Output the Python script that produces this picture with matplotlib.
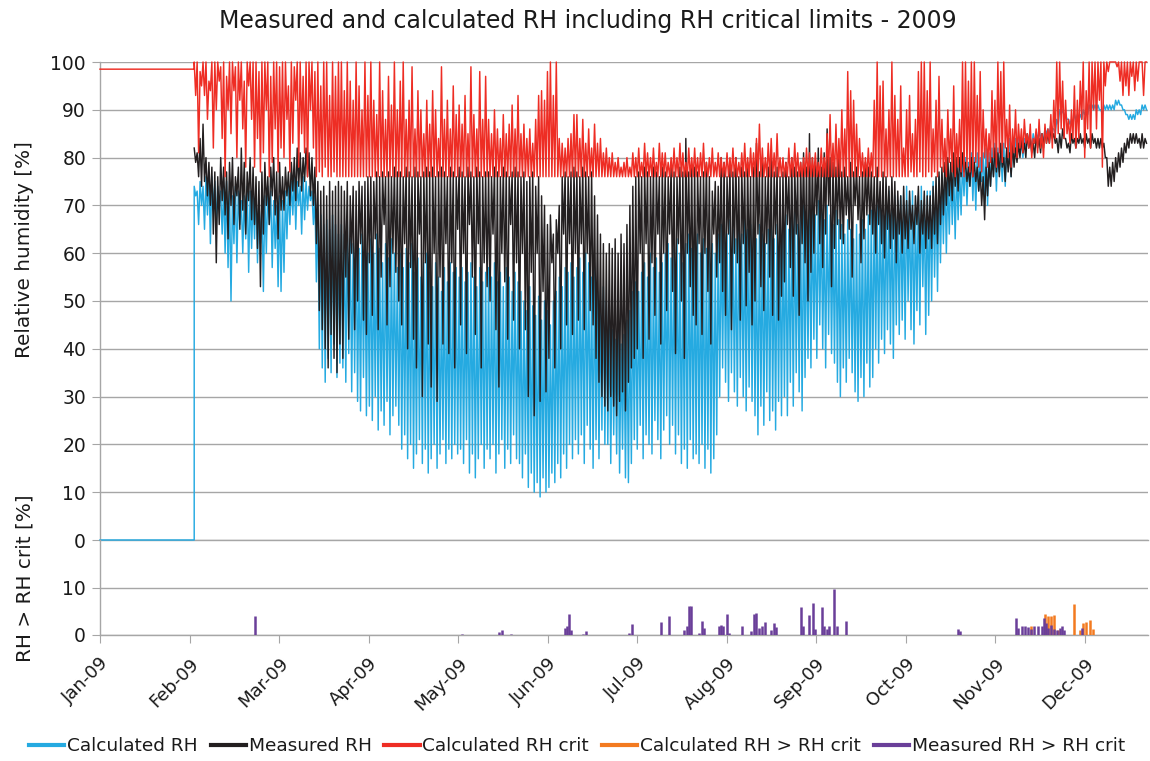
import numpy as np
import matplotlib
matplotlib.use("Agg")
import matplotlib.pyplot as plt
from matplotlib.lines import Line2D

plt.rcParams['font.family'] = ['DejaVu Sans']

# ---------------- data ----------------
month_labels = ["Jan-09", "Feb-09", "Mar-09", "Apr-09", "May-09", "Jun-09",
                "Jul-09", "Aug-09", "Sep-09", "Oct-09", "Nov-09", "Dec-09"]

# day of year (0 = 1 Jan) where the daily series start
series_start_day = 32
# values before the logger started (day 0 .. day 32)
pre_days = [0, 32]
calc_pre = [0, 0]
crit_pre = [98.5, 98.5]

# Calculated RH: daily high / low, from day 32 onward
calc_hi = [
    74, 73, 75, 74, 76, 77, 76, 75, 74, 73,
    74, 75, 73, 72, 74, 73, 71, 72, 74, 73,
    72, 73, 71, 70, 72, 74, 73, 71, 70, 72,
    71, 73, 74, 75, 76, 75, 74, 76, 75, 74,
    73, 72, 70, 68, 66, 67, 65, 68, 66, 64,
    66, 64, 67, 63, 62, 65, 61, 64, 62, 60,
    63, 60, 64, 61, 58, 62, 59, 63, 60, 57,
    60, 57, 61, 58, 62, 56, 59, 55, 58, 60,
    56, 53, 58, 55, 52, 57, 54, 58, 56, 57,
    55, 57, 54, 56, 58, 55, 53, 57, 54, 56,
    57, 55, 58, 54, 56, 53, 57, 55, 52, 56,
    54, 52, 50, 48, 53, 49, 47, 51, 46, 50,
    48, 45, 50, 52, 55, 53, 57, 56, 58, 55,
    57, 59, 56, 60, 58, 55, 57, 52, 50, 53,
    50, 47, 44, 42, 45, 41, 43, 46, 48, 52,
    54, 52, 56, 58, 55, 60, 57, 59, 56, 58,
    60, 62, 59, 61, 63, 60, 58, 62, 64, 61,
    62, 64, 60, 63, 61, 65, 62, 60, 64, 66,
    66, 64, 67, 65, 63, 66, 64, 67, 65, 66,
    65, 63, 66, 64, 62, 65, 67, 63, 66, 64,
    66, 68, 65, 67, 69, 66, 68, 70, 67, 69,
    70, 68, 71, 69, 67, 70, 68, 66, 69, 67,
    66, 64, 67, 65, 63, 66, 64, 67, 65, 68,
    69, 71, 70, 72, 68, 71, 73, 70, 72, 71,
    72, 70, 74, 71, 73, 69, 72, 74, 71, 73,
    73, 75, 74, 76, 75, 77, 76, 78, 77, 78,
    78, 79, 80, 79, 81, 80, 81, 80, 81, 82,
    81, 82, 83, 82, 81, 83, 82, 84, 83, 84,
    84, 83, 84, 85, 84, 85, 85, 86, 85, 86,
    86, 87, 86, 88, 90, 90, 89, 88, 88, 89,
    89, 89, 90, 90, 91, 91, 91, 91, 90, 91,
    91, 91, 91, 92, 92, 91, 90, 89, 89, 89,
    90, 90, 91, 91,
]
calc_lo = [
    72, 66, 70, 65, 68, 62, 69, 66, 70, 64,
    60, 57, 50, 62, 58, 66, 60, 63, 56, 61,
    63, 58, 62, 52, 60, 66, 57, 61, 53, 52,
    56, 63, 66, 68, 65, 70, 64, 67, 69, 71,
    66, 54, 40, 36, 33, 38, 35, 41, 34, 37,
    36, 33, 39, 31, 35, 29, 27, 34, 26, 28,
    25, 30, 23, 27, 24, 29, 22, 26, 28, 24,
    19, 22, 17, 20, 15, 18, 21, 16, 19, 14,
    17, 20, 15, 18, 21, 16, 19, 17, 20, 18,
    19, 16, 21, 14, 18, 13, 17, 20, 15, 19,
    17, 20, 14, 18, 21, 15, 19, 16, 22, 17,
    16, 13, 18, 11, 14, 10, 12, 9, 13, 10,
    11, 14, 12, 16, 13, 18, 15, 20, 17, 21,
    18, 22, 16, 24, 19, 15, 21, 17, 23, 20,
    20, 16, 22, 18, 14, 19, 13, 12, 16, 21,
    19, 24, 17, 22, 20, 18, 25, 21, 17, 23,
    26, 20, 24, 18, 22, 16, 19, 15, 21, 17,
    18, 16, 20, 15, 19, 14, 17, 22, 30, 36,
    33, 29, 35, 31, 28, 34, 30, 27, 32, 29,
    26, 22, 28, 24, 31, 25, 27, 23, 29, 26,
    30, 26, 33, 28, 35, 31, 27, 34, 38, 36,
    42, 38, 45, 40, 36, 43, 39, 37, 33, 30,
    36, 33, 38, 35, 31, 29, 34, 30, 37, 32,
    34, 40, 37, 42, 39, 44, 41, 38, 45, 43,
    46, 42, 50, 44, 41, 48, 45, 53, 43, 47,
    50, 55, 52, 58, 62, 60, 64, 66, 63, 67,
    68, 72, 70, 74, 71, 69, 73, 75, 72, 70,
    74, 76, 73, 77, 75, 74, 78, 76, 79, 80,
    81, 80, 82, 83, 82, 83, 84, 84, 83, 85,
    85, 86, 85, 87, 89, 89, 88, 87, 87, 88,
    88, 88, 89, 89, 90, 90, 90, 90, 89, 90,
    90, 90, 90, 91, 91, 90, 89, 88, 88, 88,
    89, 89, 90, 90,
]

# Measured RH: daily high / low, from day 32 onward
meas_hi = [
    82, 81, 84, 87, 80, 79, 78, 77, 76, 80,
    78, 77, 79, 80, 76, 78, 82, 79, 77, 80,
    78, 76, 75, 77, 79, 76, 78, 80, 77, 79,
    76, 78, 77, 79, 80, 82, 81, 80, 82, 81,
    80, 78, 75, 73, 74, 72, 75, 73, 74, 75,
    74, 73, 75, 72, 74, 73, 75, 74, 75, 76,
    76, 75, 77, 76, 77, 76, 77, 76, 78, 77,
    77, 76, 78, 77, 76, 78, 77, 76, 77, 78,
    77, 78, 76, 77, 78, 77, 76, 78, 77, 76,
    78, 77, 76, 78, 77, 76, 78, 77, 76, 77,
    77, 76, 78, 77, 76, 78, 77, 76, 77, 78,
    77, 76, 77, 75, 76, 77, 74, 76, 72, 70,
    66, 68, 64, 67, 70, 76, 77, 76, 77, 78,
    77, 76, 78, 77, 76, 77, 72, 68, 64, 62,
    60, 62, 61, 63, 60, 64, 62, 66, 70, 74,
    76, 77, 76, 78, 77, 76, 78, 77, 76, 78,
    77, 76, 78, 77, 76, 78, 77, 84, 77, 78,
    78, 77, 76, 77, 79, 76, 73, 75, 74, 80,
    79, 76, 78, 77, 80, 76, 78, 77, 79, 76,
    78, 83, 77, 79, 76, 78, 80, 77, 78, 76,
    77, 79, 76, 80, 78, 77, 79, 81, 78, 85,
    80, 79, 82, 78, 81, 86, 80, 79, 78, 80,
    77, 78, 76, 79, 77, 78, 76, 77, 79, 78,
    77, 76, 78, 75, 77, 76, 74, 76, 75, 73,
    72, 74, 71, 73, 70, 72, 74, 71, 73, 72,
    72, 74, 76, 77, 78, 79, 80, 79, 81, 80,
    80, 81, 79, 78, 80, 79, 78, 77, 76, 78,
    79, 80, 82, 81, 83, 80, 82, 81, 83, 82,
    83, 84, 83, 85, 84, 83, 85, 84, 85, 86,
    85, 86, 85, 84, 85, 86, 84, 83, 85, 84,
    84, 85, 84, 85, 84, 85, 84, 84, 84, 83,
    80, 78, 79, 80, 81, 82, 83, 84, 85, 85,
    85, 84, 85, 84,
]
meas_lo = [
    79, 76, 74, 75, 72, 70, 64, 58, 66, 71,
    68, 63, 70, 66, 72, 65, 69, 64, 71, 67,
    66, 61, 53, 64, 70, 66, 72, 68, 63, 69,
    69, 72, 70, 73, 71, 74, 73, 75, 76, 72,
    70, 62, 48, 44, 40, 36, 43, 38, 35, 41,
    38, 55, 42, 60, 44, 50, 62, 46, 43, 58,
    47, 63, 44, 55, 66, 45, 53, 60, 56, 50,
    45, 62, 40, 57, 42, 36, 64, 30, 58, 41,
    32, 60, 29, 55, 41, 62, 39, 58, 36, 65,
    45, 60, 39, 66, 55, 43, 62, 36, 58, 53,
    50, 64, 44, 32, 60, 54, 42, 66, 46, 58,
    40, 60, 44, 30, 56, 26, 60, 29, 52, 31,
    38, 58, 36, 60, 40, 64, 45, 62, 43, 60,
    46, 62, 44, 60, 48, 45, 38, 33, 30, 28,
    27, 30, 28, 26, 29, 31, 27, 33, 36, 38,
    40, 60, 38, 62, 42, 58, 47, 64, 41, 60,
    48, 64, 52, 39, 62, 50, 38, 60, 53, 47,
    45, 62, 43, 60, 52, 41, 64, 55, 58, 52,
    47, 64, 44, 60, 58, 46, 62, 49, 56, 45,
    50, 64, 53, 48, 62, 55, 47, 64, 46, 51,
    54, 66, 57, 51, 64, 47, 62, 58, 50, 56,
    60, 68, 62, 57, 64, 70, 53, 61, 66, 63,
    62, 68, 65, 55, 70, 67, 58, 63, 68, 66,
    64, 60, 66, 62, 59, 65, 61, 63, 58, 64,
    60, 63, 61, 65, 62, 66, 60, 64, 61, 63,
    61, 64, 62, 66, 68, 70, 72, 71, 74, 73,
    76, 77, 75, 74, 76, 75, 73, 70, 67, 72,
    74, 76, 77, 76, 78, 75, 77, 76, 78, 79,
    80, 81, 80, 82, 81, 80, 82, 81, 82, 83,
    83, 84, 83, 81, 82, 84, 82, 81, 83, 82,
    83, 83, 82, 83, 82, 83, 82, 82, 82, 80,
    74, 74, 75, 77, 78, 79, 81, 82, 83, 83,
    83, 82, 82, 83,
]

# Calculated RH crit: daily high / low, from day 32 onward
crit_hi = [
    100, 100, 98, 100, 100, 96, 100, 100, 100, 99,
    100, 97, 100, 100, 99, 100, 100, 96, 100, 100,
    100, 100, 98, 100, 100, 100, 97, 100, 100, 99,
    100, 100, 95, 100, 99, 100, 100, 97, 100, 100,
    100, 98, 100, 95, 100, 100, 93, 100, 97, 100,
    100, 94, 100, 96, 92, 100, 95, 90, 100, 93,
    100, 92, 89, 100, 94, 88, 97, 91, 100, 90,
    96, 100, 88, 92, 99, 86, 94, 90, 85, 92,
    87, 94, 90, 84, 99, 88, 92, 86, 95, 89,
    91, 87, 93, 85, 99, 89, 86, 98, 88, 97,
    88, 85, 90, 86, 84, 89, 85, 87, 91, 86,
    93, 85, 87, 84, 86, 83, 88, 93, 94, 92,
    98, 100, 93, 100, 84, 83, 82, 84, 85, 89,
    89, 84, 88, 83, 86, 82, 87, 83, 84, 81,
    82, 80, 81, 79, 80, 78, 79, 80, 78, 81,
    80, 82, 79, 83, 81, 80, 82, 79, 83, 81,
    81, 79, 80, 82, 80, 83, 81, 79, 82, 80,
    82, 80, 81, 83, 79, 80, 82, 79, 81, 80,
    79, 81, 80, 82, 80, 79, 81, 83, 80, 82,
    81, 84, 87, 82, 80, 83, 84, 81, 85, 80,
    80, 79, 82, 80, 83, 81, 79, 80, 82, 81,
    80, 81, 79, 82, 80, 85, 89, 83, 87, 84,
    90, 86, 98, 94, 92, 87, 84, 81, 80, 82,
    81, 92, 100, 95, 96, 86, 90, 100, 93, 88,
    95, 82, 90, 93, 85, 88, 98, 100, 100, 94,
    100, 86, 92, 97, 88, 84, 90, 86, 95, 85,
    88, 100, 100, 96, 100, 100, 93, 98, 90, 86,
    85, 94, 92, 100, 98, 100, 88, 91, 86, 90,
    87, 86, 88, 85, 87, 84, 86, 88, 85, 87,
    86, 89, 92, 100, 100, 96, 92, 88, 90, 95,
    92, 96, 100, 94, 100, 100, 100, 100, 100, 100,
    100, 100, 100, 100, 100, 100, 100, 100, 100, 100,
    100, 100, 100, 100,
]
crit_lo = [
    93, 81, 95, 93, 88, 94, 82, 90, 96, 84,
    76, 90, 85, 94, 80, 92, 86, 78, 95, 88,
    78, 84, 77, 81, 90, 76, 79, 86, 77, 82,
    80, 88, 77, 83, 92, 78, 85, 81, 76, 90,
    82, 76, 77, 76, 78, 76, 76, 77, 76, 76,
    76, 76, 76, 76, 76, 76, 76, 76, 76, 76,
    76, 76, 76, 76, 76, 76, 76, 76, 76, 76,
    76, 76, 76, 76, 76, 76, 76, 76, 76, 76,
    76, 76, 76, 76, 76, 76, 76, 76, 76, 76,
    76, 76, 76, 76, 76, 76, 76, 76, 76, 76,
    76, 76, 76, 76, 76, 76, 76, 76, 76, 76,
    76, 76, 76, 76, 76, 76, 76, 76, 76, 76,
    76, 76, 76, 76, 76, 76, 76, 76, 76, 76,
    76, 76, 76, 76, 76, 76, 76, 76, 76, 76,
    76, 76, 76, 76, 76, 76, 76, 76, 76, 76,
    76, 76, 76, 76, 76, 76, 76, 76, 76, 76,
    76, 76, 76, 76, 76, 76, 76, 76, 76, 76,
    76, 76, 76, 76, 76, 76, 76, 76, 76, 76,
    76, 76, 76, 76, 76, 76, 76, 76, 76, 76,
    76, 76, 76, 76, 76, 76, 76, 76, 76, 76,
    76, 76, 76, 76, 76, 76, 76, 76, 76, 76,
    76, 76, 76, 76, 76, 76, 76, 76, 76, 76,
    76, 76, 76, 76, 76, 76, 76, 76, 76, 76,
    76, 76, 76, 76, 76, 76, 76, 76, 76, 76,
    76, 76, 76, 77, 76, 76, 77, 76, 76, 77,
    76, 77, 76, 78, 77, 76, 79, 77, 76, 78,
    77, 76, 78, 77, 76, 79, 78, 77, 80, 78,
    79, 80, 78, 81, 79, 82, 80, 78, 81, 80,
    82, 81, 83, 82, 80, 83, 81, 82, 80, 83,
    83, 82, 84, 85, 86, 84, 85, 83, 84, 82,
    84, 88, 80, 86, 82, 90, 86, 92, 78, 95,
    98, 100, 100, 99, 96, 93, 95, 93, 97, 94,
    96, 100, 93, 100,
]

# RH > RH crit events (day of year, excess in %)
meas_exc_days = [52.6, 122.8, 135.6, 136.7, 139.7, 158.0, 158.7, 159.4, 160.0, 164.0,
                 165.0, 179.7, 180.7, 190.6, 193.3, 198.4, 199.4, 200.0, 200.7, 203.5,
                 204.5, 205.2, 210.2, 210.9, 211.6, 213.0, 213.6, 218.0, 221.0, 222.0,
                 222.8, 223.8, 224.8, 225.8, 227.9, 228.9, 229.6, 238.0, 238.7, 240.8,
                 242.1, 242.8, 245.2, 245.8, 246.9, 247.5, 249.2, 250.3, 253.3, 291.6,
                 292.3, 311.3, 312.0, 313.3, 314.3, 315.4, 316.4, 317.4, 318.7, 320.1,
                 320.8, 321.5, 322.1, 323.2, 324.2, 325.2, 326.2, 326.9, 327.6, 333.7]
meas_exc_vals = [4.0, 0.3, 0.6, 1.0, 0.2, 1.5, 2.0, 4.5, 1.0, 0.3,
                 0.8, 0.5, 2.4, 2.8, 4.0, 1.0, 1.8, 6.2, 6.2, 0.5,
                 3.0, 1.5, 2.0, 2.2, 2.0, 4.5, 0.5, 2.0, 0.8, 4.5,
                 4.7, 1.5, 2.0, 2.8, 1.0, 2.5, 1.6, 6.0, 2.0, 4.2,
                 6.7, 1.2, 6.0, 2.0, 1.2, 2.0, 9.6, 2.0, 3.0, 1.2,
                 0.8, 3.6, 1.5, 1.8, 2.0, 1.6, 1.2, 2.0, 1.8, 1.8,
                 3.5, 2.5, 1.5, 2.2, 1.2, 1.0, 1.5, 1.8, 1.0, 1.5]
calc_exc_days = [316.4, 321.1, 322.1, 323.2, 324.2, 325.5, 331.0, 333.0, 334.0, 335.0, 336.4, 337.4]
calc_exc_vals = [1.8, 4.5, 4.0, 4.1, 4.3, 1.0, 6.5, 1.0, 2.5, 2.7, 3.2, 1.2]

# ---------------- style ----------------
C_CALC = "#25AAE1"
C_MEAS = "#231F20"
C_CRIT = "#EE2D24"
C_CEXC = "#F37A20"
C_MEXC = "#6A3F99"
C_GRID = "#A6A6A6"
C_TEXT = "#1A1A1A"


def zigzag_series(start, hi, lo):
    """Daily high / low pairs laid out along the day axis."""
    n = len(hi)
    d = start + np.arange(n, dtype=float)
    x = np.empty(2 * n)
    y = np.empty(2 * n)
    x[0::2] = d
    x[1::2] = d + 0.5
    y[0::2] = hi
    y[1::2] = lo
    return x, y


W, H = 1150, 761
fig = plt.figure(figsize=(W / 100, H / 100), dpi=100)
left, right = 100 / W, 1148 / W
ax = fig.add_axes([left, (H - 540) / H, right - left, (540 - 62) / H])
axb = fig.add_axes([left, (H - 635) / H, right - left, (635 - 540) / H], sharex=ax)

xc, yc = zigzag_series(series_start_day, calc_hi, calc_lo)
xm, ym = zigzag_series(series_start_day, meas_hi, meas_lo)
xr, yr = zigzag_series(series_start_day, crit_hi, crit_lo)

lw = 1.05
ax.axhline(0, color=C_GRID, lw=1.0, zorder=1, clip_on=False)
ax.plot(np.r_[pre_days, xc], np.r_[calc_pre, yc], color=C_CALC, lw=lw, clip_on=False, zorder=3)
ax.plot(xm, ym, color=C_MEAS, lw=lw, clip_on=False, zorder=4)
ax.plot(np.r_[pre_days, xr], np.r_[crit_pre, yr], color=C_CRIT, lw=lw, clip_on=False, zorder=5)

axb.vlines(calc_exc_days, 0, calc_exc_vals, color=C_CEXC, lw=1.8, zorder=3)
axb.vlines(meas_exc_days, 0, meas_exc_vals, color=C_MEXC, lw=1.8, zorder=4)

month_pos = np.arange(12) * 365 / 12
ax.set_xlim(0, 356)
ax.set_ylim(0, 100)
ax.set_yticks(np.arange(0, 101, 10))
axb.set_ylim(0, 20)
axb.set_yticks([0, 10])
axb.set_xticks(month_pos)
axb.set_xticklabels(month_labels)

for a in (ax, axb):
    a.grid(axis='y', color=C_GRID, lw=1.0, zorder=0)
    a.set_axisbelow(True)
    for s in ('top', 'right'):
        a.spines[s].set_visible(False)
    a.spines['left'].set_color(C_GRID)
    a.spines['left'].set_linewidth(1.0)
    a.tick_params(axis='y', length=6, color=C_GRID, labelsize=13.5, labelcolor=C_TEXT, pad=4)
    a.set_facecolor('none')

ax.spines['bottom'].set_visible(False)
ax.tick_params(axis='x', bottom=False, labelbottom=False)
axb.spines['bottom'].set_color(C_GRID)
axb.spines['bottom'].set_linewidth(1.0)
axb.tick_params(axis='x', length=6, color=C_GRID, labelsize=13, labelcolor=C_TEXT, pad=8)
plt.setp(axb.get_xticklabels(), rotation=45, ha='right', rotation_mode='anchor')

fig.text(588 / W, 1 - 21 / H, "Measured and calculated RH including RH critical limits - 2009",
         ha='center', va='center', fontsize=17, color=C_TEXT)
fig.text(25 / W, 1 - 250 / H, "Relative humidity [%]", rotation=90,
         ha='center', va='center', fontsize=14.4, color=C_TEXT)
fig.text(25 / W, 1 - 578 / H, "RH > RH crit [%]", rotation=90,
         ha='center', va='center', fontsize=14.4, color=C_TEXT)

handles = [Line2D([], [], color=c, lw=3) for c in (C_CALC, C_MEAS, C_CRIT, C_CEXC, C_MEXC)]
labels = ["Calculated RH", "Measured RH", "Calculated RH crit",
          "Calculated RH > RH crit", "Measured RH > RH crit"]
fig.legend(handles, labels, loc='center', bbox_to_anchor=(577 / W, 15 / H), ncol=5,
           frameon=False, fontsize=13.3, handlelength=1.9, handletextpad=0.15,
           columnspacing=0.7, labelcolor=C_TEXT)

fig.savefig("out.png", dpi=100)
